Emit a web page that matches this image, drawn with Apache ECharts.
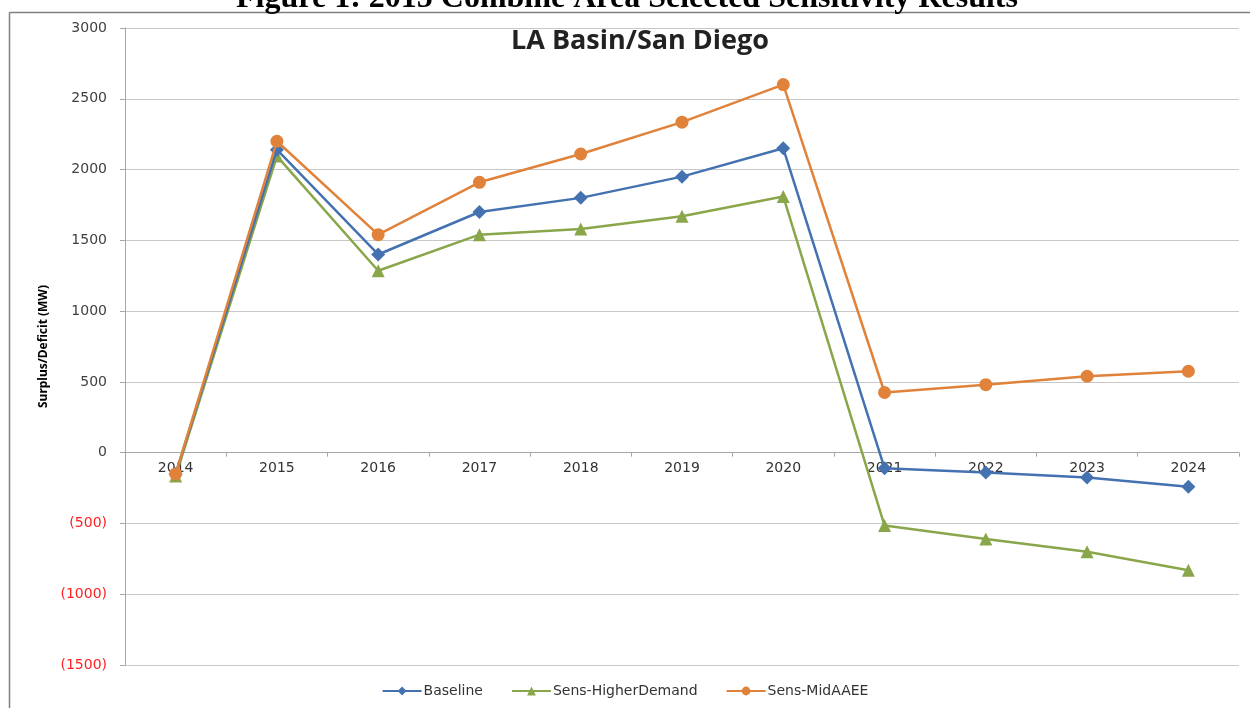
<!DOCTYPE html>
<html>
<head>
<meta charset="utf-8">
<script src="https://cdn.jsdelivr.net/npm/echarts@6/dist/echarts.min.js"></script>
<style>html,body{margin:0;padding:0;background:#fff;}#c{width:1250px;height:708px;}</style>
</head>
<body>
<div id="c"></div>
<script>
const categories = ['2014','2015','2016','2017','2018','2019','2020','2021','2022','2023','2024'];
const baseline = [-150, 2140, 1400, 1700, 1800, 1950, 2150, -110, -140, -175, -240];
const higherDemand = [-165, 2095, 1285, 1540, 1580, 1670, 1810, -515, -610, -700, -830];
const midAAEE = [-150, 2200, 1540, 1910, 2110, 2335, 2600, 425, 480, 540, 575];
const yTicks = {min: -1500, max: 3000, interval: 500};

const W = 1250, H = 708;
const gridTop = 28, gridBottom = 43;
const plotH = H - gridTop - gridBottom;
// place the category axis on the zero line of the value axis
const zeroOffset = -plotH * (0 - yTicks.min) / (yTicks.max - yTicks.min);

const chart = echarts.init(document.getElementById('c'));
const font = 'DejaVu Sans';
chart.setOption({
  animation: false,
  backgroundColor: '#fff',
  title: {
    text: 'LA Basin/San Diego',
    left: 635, top: 23, textAlign: 'center',
    textStyle: {fontFamily: 'Open Sans', fontWeight: 'bold', fontSize: 27, color: '#222'}
  },
  graphic: [
    {type: 'line', shape: {x1: 9.5, y1: 12.5, x2: 1250, y2: 12.5}, style: {stroke: '#7f7f7f', lineWidth: 1.5}},
    {type: 'line', shape: {x1: 9.5, y1: 12.5, x2: 9.5, y2: 708}, style: {stroke: '#7f7f7f', lineWidth: 1.5}},
    {type: 'text', x: 627, y: -17,
     style: {text: 'Figure 1: 2015 Combine Area Selected Sensitivity Results', font: 'bold 32px "Liberation Serif"', fill: '#000', align: 'center'}}
  ],
  legend: {
    bottom: 5, left: 'center', itemGap: 28, itemWidth: 39, itemHeight: 11,
    textStyle: {fontFamily: font, fontSize: 14, color: '#333', padding: [0, 0, 0, -3]},
    data: ['Baseline', 'Sens-HigherDemand', 'Sens-MidAAEE']
  },
  grid: {left: 125, right: 11, top: gridTop, bottom: gridBottom, containLabel: false},
  xAxis: {
    type: 'category', data: categories, boundaryGap: true, position: 'bottom', offset: zeroOffset,
    axisLine: {onZero: false, lineStyle: {color: '#a6a6a6', width: 1}},
    axisTick: {show: true, length: 4, inside: false, lineStyle: {color: '#a6a6a6'}},
    axisLabel: {fontFamily: font, fontSize: 14, color: '#333', margin: 9}
  },
  yAxis: {
    type: 'value', min: yTicks.min, max: yTicks.max, interval: yTicks.interval,
    name: 'Surplus/Deficit (MW)', nameLocation: 'middle', nameGap: 71, nameRotate: 90,
    nameTextStyle: {fontFamily: 'Noto Sans', fontWeight: 'bold', fontSize: 12, color: '#000'},
    axisLine: {show: true, lineStyle: {color: '#a6a6a6'}},
    axisTick: {show: true, length: 5, lineStyle: {color: '#a6a6a6'}},
    splitLine: {lineStyle: {color: '#c8c8c8', width: 1.2}},
    axisLabel: {
      margin: 18, fontFamily: font, fontSize: 14,
      formatter: v => v < 0 ? '{n|(' + (-v) + ')}' : '{p|' + v + '}',
      rich: {n: {color: '#ff2020', fontFamily: font, fontSize: 14}, p: {color: '#404040', fontFamily: font, fontSize: 14}}
    }
  },
  series: [
    {name: 'Baseline', type: 'line', data: baseline, symbol: 'diamond', symbolSize: 14,
     itemStyle: {color: '#4472b0'}, lineStyle: {width: 2.5, color: '#4472b0'}, z: 3},
    {name: 'Sens-HigherDemand', type: 'line', data: higherDemand, symbol: 'triangle', symbolSize: 13,
     itemStyle: {color: '#8aa64a'}, lineStyle: {width: 2.5, color: '#8aa64a'}, z: 2},
    {name: 'Sens-MidAAEE', type: 'line', data: midAAEE, symbol: 'circle', symbolSize: 13,
     itemStyle: {color: '#e0823a'}, lineStyle: {width: 2.5, color: '#e0823a'}, z: 4}
  ]
});
</script>
</body>
</html>
